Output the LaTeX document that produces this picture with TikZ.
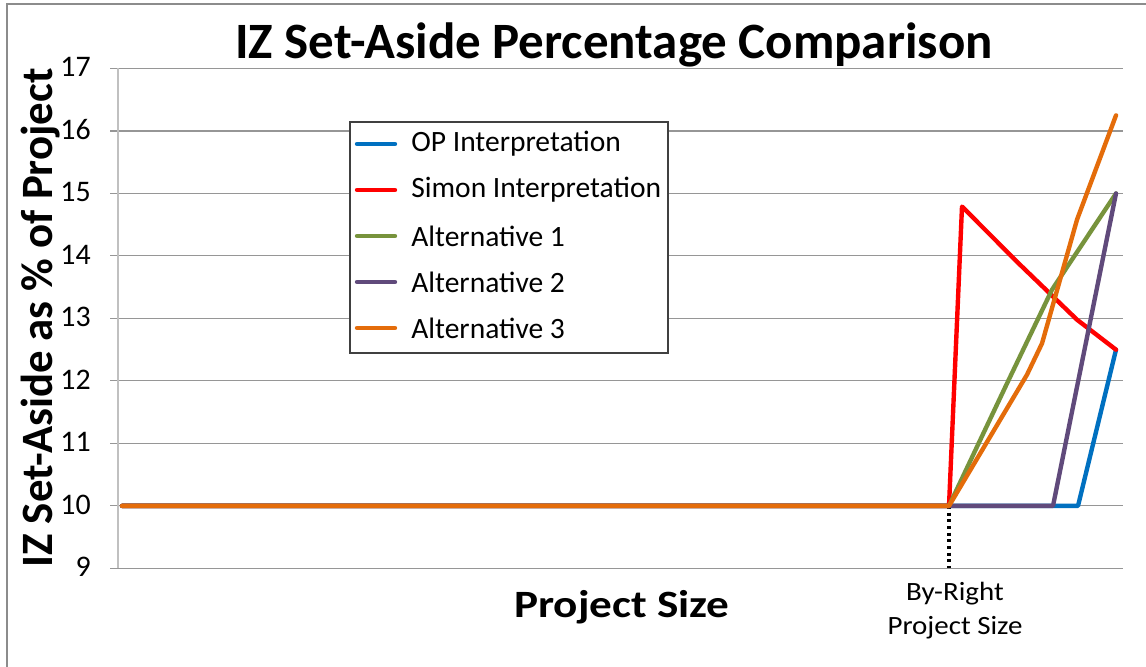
\documentclass[tikz,border=0pt]{standalone}
\usepackage{fontspec}
\setmainfont{Carlito}
\usepackage{tikz}
\usetikzlibrary{positioning}
\usepackage{xcolor}

\definecolor{opblue}{RGB}{0,112,192}
\definecolor{simonred}{RGB}{255,0,0}
\definecolor{altgreen}{RGB}{119,147,60}
\definecolor{altpurple}{RGB}{96,74,123}
\definecolor{altorange}{RGB}{228,108,10}
\definecolor{gridgray}{RGB}{150,150,150}
\definecolor{framegray}{RGB}{140,140,140}

\tikzset{
  series/.style={line width=2.5pt, line join=round, line cap=round},
  ticklabel/.style={anchor=east, inner sep=0pt, font=\fontsize{17}{17}\selectfont},
  legendtext/.style={anchor=west, inner sep=0pt, font=\fontsize{16.8}{16.8}\selectfont}
}

\begin{document}
\begin{tikzpicture}[x=0.02cm, y=-0.02cm]
\useasboundingbox (0,0) rectangle (1146,666);
\fill[white] (0,0) rectangle (1146,666);
\draw[line width=1.1pt, draw=framegray] (7,4) rectangle (1170,690);

\node[font=\fontsize{29}{29}\bfseries] (title) at (614,45) {IZ Set-Aside Percentage Comparison};
\node[font=\fontsize{25.5}{25.5}\bfseries, rotate=90] (ylabel) at (41,318) {IZ Set-Aside as \% of Project};
\node[font=\fontsize{22}{22}\bfseries, xscale=1.17] (xlabel) at (622,607) {Project Size};
\node[font=\fontsize{15}{19.3}\selectfont, align=center, xscale=1.1] (byright) at (955,611) {By-Right\\Project Size};

% plot area: x in pixels, y in percent
\begin{scope}[y=1.25cm, yshift=-22.62cm]
\foreach \v in {9,...,17} {
  \draw[gridgray, line width=0.6pt] (110,\v) -- (1123,\v);
  \node[ticklabel] (tick\v) at (91,\v+0.02) {\v};
}
\draw[gridgray!60, line width=1pt] (118,9) -- (118,17);

\draw[black, line width=1.8pt, dotted] (949,10) coordinate (byr) -- (949,9);

\draw[series, opblue] (122,10) -- (1078,10) -- (1116,12.5);
\draw[series, simonred] (122,10) -- (949,10) -- (962,14.79) -- (1020,13.86) -- (1077,12.98) -- (1116,12.5);
\draw[series, altgreen] (122,10) -- (949,10) -- (1007,11.96) -- (1052,13.46) -- (1116,15);
\draw[series, altpurple] (122,10) -- (1053,10) -- (1116,15);
\draw[series, altorange] (122,10) -- (949,10) -- (1027,12.1) -- (1042,12.6) -- (1077,14.58) -- (1116,16.25);
\end{scope}

% legend
\draw[line width=0.6pt, draw=black!75, fill=white] (350,122) rectangle (668,353);
\foreach \c/\t [count=\i] in {opblue/OP Interpretation, simonred/Simon Interpretation, altgreen/Alternative 1, altpurple/Alternative 2, altorange/Alternative 3} {
  \draw[series, \c] (357,98+46*\i) -- (395,98+46*\i);
  \node[legendtext] (leg\i) at (411,98+46*\i) {\t};
}
\end{tikzpicture}
\end{document}
